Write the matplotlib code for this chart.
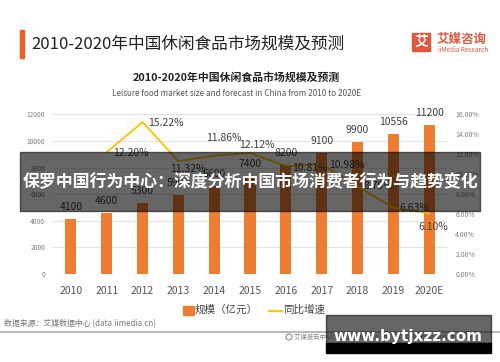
import matplotlib
matplotlib.use("Agg")
import matplotlib.pyplot as plt
from matplotlib.patches import Rectangle, Circle
from matplotlib.lines import Line2D

plt.rcParams['font.family'] = ['Noto Sans CJK SC', 'DejaVu Sans']

years = ['2010', '2011', '2012', '2013', '2014', '2015', '2016', '2017', '2018', '2019', '2020E']
scale = [4100, 4600, 5300, 5900, 6600, 7400, 8200, 9100, 9900, 10556, 11200]
growth_years = ['2011', '2012', '2013', '2014', '2015', '2016', '2017', '2018', '2019', '2020E']
growth = [12.20, 15.22, 11.32, 11.86, 12.12, 10.81, 10.98, 8.79, 6.63, 6.10]
left_ticks = [0, 2000, 4000, 6000, 8000, 10000, 12000]
right_ticks = [0, 2, 4, 6, 8, 10, 12, 14, 16]
# label offsets (pixels: right, down) for the growth labels
growth_offsets = [(6, 1), (6, 1), (-8, 8), (-8, -18), (-11, -8), (6, 2), (7, 1), (6, 0), (6, 0), (-11, 14)]

W, H = 500, 362
fig = plt.figure(figsize=(5.0, 3.62), dpi=100)
fig.patch.set_facecolor('white')

ax = fig.add_axes([53 / W, (H - 274) / H, 394 / W, (274 - 114.3) / H])
x = list(range(len(years)))
ax.bar(x, scale, width=0.31, color='#ED7D31', zorder=3)
ax.set_xlim(-0.5, len(years) - 0.5)
ax.set_ylim(0, 12000)
ax.set_yticks(left_ticks)
ax.set_yticklabels([str(v) for v in left_ticks], fontsize=4.8, color='#808080')
ax.set_xticks(x)
ax.set_xticklabels(years, fontsize=7.5, color='#555555')
ax.tick_params(axis='both', length=0)
ax.tick_params(axis='y', pad=5.5)
ax.tick_params(axis='x', pad=9)
ax.grid(axis='y', color='#E3E3E3', linewidth=0.8, zorder=0)
for s in ax.spines.values():
    s.set_visible(False)
for xi, v in zip(x, scale):
    ax.annotate(str(v), (xi, v), xytext=(0, 7), textcoords='offset pixels',
                ha='center', va='bottom', fontsize=7.5, color='#404040', zorder=5)

ax2 = ax.twinx()
gx = [years.index(g) for g in growth_years]
ax2.plot(gx, growth, color='#FFC000', linewidth=1.3, zorder=4)
ax2.set_ylim(0, 16)
ax2.set_yticks(right_ticks)
ax2.set_yticklabels(['%.2f%%' % v for v in right_ticks], fontsize=5, color='#808080')
ax2.tick_params(axis='y', length=0, pad=6)
for s in ax2.spines.values():
    s.set_visible(False)
for xi, v, (dx, dy) in zip(gx, growth, growth_offsets):
    ax2.annotate('%.2f%%' % v, (xi, v), xytext=(dx, -dy), textcoords='offset pixels',
                 ha='left', va='center', fontsize=7.5, color='#404040', zorder=5)

# overlay axes in pixel coordinates for header/footer decoration
ov = fig.add_axes([0, 0, 1, 1], zorder=10)
ov.set_xlim(0, W)
ov.set_ylim(H, 0)
ov.axis('off')
ov.patch.set_alpha(0)

# header
ov.add_patch(Rectangle((20, 30), 4, 28, color='#F05A28'))
ov.text(31, 44, '2010-2020年中国休闲食品市场规模及预测', fontsize=12, color='#222222', va='center', ha='left')
ov.add_patch(Rectangle((412, 32.5), 18, 18, color='#E4573D'))
ov.text(421, 41.5, '艾', fontsize=10, color='white', weight='bold', ha='center', va='center')
ov.text(437, 39.5, '艾媒咨询', fontsize=9, color='#E4573D', weight='bold', ha='left', va='center')
ov.text(438, 50.5, 'iiMedia Research', fontsize=4.6, color='#E4573D', ha='left', va='center')

ov.text(236.5, 77, '2010-2020年中国休闲食品市场规模及预测', fontsize=7.8, color='#222222', weight='bold', ha='center', va='center')
ov.text(236.5, 94, 'Leisure food market size and forecast in China from 2010 to 2020E', fontsize=5.85, color='#555555', ha='center', va='center')

# legend
ov.add_patch(Rectangle((183, 305.5), 11, 9, color='#ED7D31'))
ov.text(195, 310, '规模（亿元）', fontsize=7.6, color='#444444', ha='left', va='center')
ov.add_line(Line2D([269, 282], [311, 311], color='#FFC000', linewidth=1.3))
ov.text(283, 310, '同比增速', fontsize=7.6, color='#444444', ha='left', va='center')

# footer
ov.text(4, 324, '数据来源：艾媒数据中心 (data.iimedia.cn)', fontsize=5.7, color='#777777', ha='left', va='center')
ov.add_line(Line2D([0, W], [332, 332], color='#BBBBBB', linewidth=1.5))
ov.add_patch(Circle((289, 337), 3, fill=False, edgecolor='#888888', linewidth=0.8))
ov.text(294, 337, '艾媒报告中心: report.iimedia.cn  ©2020  iiMedia Research  Inc', fontsize=4.6, color='#888888', ha='left', va='center')

# watermark overlays
ov.add_patch(Rectangle((20, 151.7), 460, 59.3, color='black', alpha=0.6, zorder=20))
ov.text(250, 182, '保罗中国行为中心：深度分析中国市场消费者行为与趋势变化', fontsize=12.2, color='white',
        weight='bold', ha='center', va='center', zorder=21)
ov.add_patch(Rectangle((326, 315), 165, 28.3, color='black', alpha=0.6, zorder=20))
ov.add_patch(Rectangle((326, 343.3), 165, 9.4, color='black', zorder=20))
ov.text(408, 336, 'www.bytjxzz.com', fontsize=11, color='white', weight='bold', ha='center', va='center',
        family='DejaVu Sans', zorder=21)

fig.savefig('out.png', dpi=100)
